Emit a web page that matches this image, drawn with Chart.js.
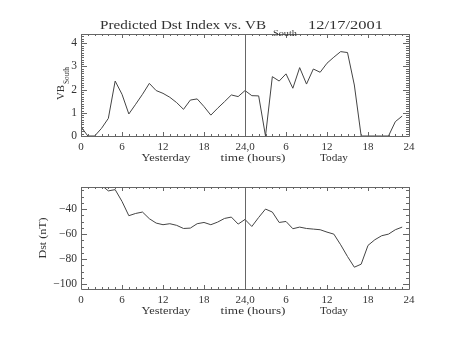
<!DOCTYPE html>
<html>
<head>
<meta charset="utf-8">
<script src="https://cdn.jsdelivr.net/npm/chart.js@4.4.0/dist/chart.umd.min.js"></script>
<style>
    body { margin: 0; background: #fff; }
    #wrap { position: relative; width: 454px; height: 341px; }
    canvas { position: absolute; left: 0; }
</style>
</head>
<body>
<div id="wrap">
    <canvas id="vbChart" width="454" height="170" style="top:0"></canvas>
    <canvas id="dstChart" width="454" height="171" style="top:170px"></canvas>
</div>
<script>
(function(){
    'use strict';

    // hours since 00 UT yesterday (0-23 yesterday, 24-47 today)
    const hours = [0, 1, 2, 3, 4, 5, 6, 7, 8, 9, 10, 11, 12, 13, 14, 15, 16, 17, 18, 19, 20, 21, 22, 23,
                   24, 25, 26, 27, 28, 29, 30, 31, 32, 33, 34, 35, 36, 37, 38, 39, 40, 41, 42, 43, 44, 45, 46, 47];

    const vbSouth = [0.4, 0, 0, 0.33, 0.76, 2.37, 1.8, 0.95, 1.37, 1.8, 2.27, 1.96,
                     1.84, 1.67, 1.44, 1.15, 1.55, 1.6, 1.27, 0.9, 1.2, 1.48, 1.77, 1.7,
                     1.96, 1.74, 1.73, 0, 2.56, 2.37, 2.68, 2.06, 2.95, 2.24, 2.89, 2.75,
                     3.14, 3.4, 3.64, 3.6, 2.2, 0, 0, 0, 0, 0, 0.62, 0.86];

    const dst = [-16, -18, -20, -21, -25.5, -24.5, -33.9, -45.3, -43.5, -42.4, -47.7, -51.2,
                 -52.5, -51.7, -53, -55.5, -55.2, -51.7, -50.7, -52.5, -50.4, -47.5, -46.4, -52,
                 -48.3, -53.9, -46.7, -40, -42.4, -50.7, -49.9, -55.7, -54.4, -55.5, -56, -56.5,
                 -58.4, -60, -68.5, -77.9, -86.4, -84, -69, -64.5, -61.3, -60, -56.5, -54.4];

    const xTicks = [0, 6, 12, 18, 24, 30, 36, 42, 48];
    const xTickLabels = ['0', '6', '12', '18', '24,0', '6', '12', '18', '24'];
    const vbTicks = [0, 1, 2, 3, 4];
    const dstTicks = [-100, -80, -60, -40];

    const SERIF = '"Liberation Serif", "DejaVu Serif", serif';
    const INK = '#333';
    const LINE = '#444';
    const FRAME = '#666';

    // draw text squeezed/stretched to a given width (IDL vector font is wide)
    function fitText(ctx, text, x, y, w){
        const m = ctx.measureText(text).width;
        ctx.save();
        ctx.translate(x, y);
        ctx.scale(w / m, 1);
        ctx.fillText(text, 0, 0);
        ctx.restore();
    }

    // IDL style frame: box, inward ticks on all four sides, divider at 24h
    const idlFrame = {
        id: 'idlFrame',
        afterDatasetsDraw(chart, args, opts){
            const ctx = chart.ctx;
            const a = chart.chartArea;
            const x = chart.scales.x;
            const y = chart.scales.y;
            ctx.save();
            ctx.strokeStyle = FRAME;
            ctx.lineWidth = 1;
            ctx.beginPath();
            ctx.rect(a.left + 0.5, a.top + 0.5, a.right - a.left, a.bottom - a.top);

            for (let h = 0; h <= 48; h++){
                const px = Math.round(x.getPixelForValue(h)) + 0.5;
                const len = h % 6 === 0 ? 4 : 2;
                ctx.moveTo(px, a.bottom); ctx.lineTo(px, a.bottom - len);
                ctx.moveTo(px, a.top); ctx.lineTo(px, a.top + len);
            }

            const n0 = Math.ceil(y.min / opts.minor);
            const n1 = Math.floor(y.max / opts.minor);
            for (let i = n0; i <= n1; i++){
                const py = Math.round(y.getPixelForValue(i * opts.minor)) + 0.5;
                const len = i % opts.perMajor === 0 ? 6 : 3;
                ctx.moveTo(a.left, py); ctx.lineTo(a.left + len, py);
                ctx.moveTo(a.right, py); ctx.lineTo(a.right - len, py);
            }

            const mid = Math.round(x.getPixelForValue(24)) + 0.5;
            ctx.moveTo(mid, a.top); ctx.lineTo(mid, a.bottom);
            ctx.stroke();
            ctx.restore();
        }
    };

    const idlText = {
        id: 'idlText',
        afterDraw(chart, args, opts){
            const ctx = chart.ctx;
            const a = chart.chartArea;
            ctx.save();
            ctx.fillStyle = INK;
            ctx.textAlign = 'left';
            ctx.textBaseline = 'alphabetic';

            // day / axis labels under the x axis
            ctx.font = '11px ' + SERIF;
            const by = a.bottom + 25;
            fitText(ctx, 'Yesterday', 166 - 24.5, by, 49);
            fitText(ctx, 'time (hours)', 253 - 32.5, by, 65);
            fitText(ctx, 'Today', 334 - 14, by, 28);

            if (opts.title){
                ctx.font = '12.5px ' + SERIF;
                fitText(ctx, 'Predicted Dst Index vs. VB', 100, 29, 166);
                fitText(ctx, '12/17/2001', 308, 29, 75);
                ctx.font = '8px ' + SERIF;
                fitText(ctx, 'South', 273, 35.5, 24);
            }

            // rotated y title
            ctx.save();
            const cy = (a.top + a.bottom) / 2;
            if (opts.yTitle === 'vb'){
                ctx.translate(63.5, cy + 15);
                ctx.rotate(-Math.PI / 2);
                ctx.font = '11px ' + SERIF;
                fitText(ctx, 'VB', 0, 0, 15);
                ctx.font = '7.5px ' + SERIF;
                fitText(ctx, 'South', 16, 5, 17);
            } else {
                ctx.translate(45.5, cy);
                ctx.rotate(-Math.PI / 2);
                ctx.font = '11px ' + SERIF;
                fitText(ctx, 'Dst (nT)', -20.5, 0, 41);
            }
            ctx.restore();
            ctx.restore();
        }
    };

    function makeChart(canvas, values, yMin, yMax, yTicks, minor, perMajor, padTop, xHeight, withTitle, yTitle){
        return new Chart(canvas, {
            type: 'line',
            data: {
                datasets: [
                    {
                        data: hours.map((h, i) => ({ x: h, y: values[i] })),
                        borderColor: LINE,
                        borderWidth: 1,
                        pointRadius: 0,
                        tension: 0,
                        clip: 0
                    }
                ]
            },
            options: {
                responsive: false,
                animation: false,
                devicePixelRatio: 1,
                layout: { padding: { left: 0, right: 45, top: padTop, bottom: 0 } },
                plugins: {
                    legend: { display: false },
                    tooltip: { enabled: false },
                    idlFrame: { minor: minor, perMajor: perMajor },
                    idlText: { title: withTitle, yTitle: yTitle }
                },
                scales: {
                    x: {
                        type: 'linear',
                        min: 0,
                        max: 48,
                        afterBuildTicks: s => { s.ticks = xTicks.map(v => ({ value: v })); },
                        afterFit: s => { s.height = xHeight; },
                        ticks: {
                            callback: (v, i) => xTickLabels[i],
                            font: { family: SERIF, size: 11 },
                            color: INK,
                            padding: 5,
                            maxRotation: 0,
                            autoSkip: false
                        },
                        grid: { display: false, drawTicks: false },
                        border: { display: false }
                    },
                    y: {
                        min: yMin,
                        max: yMax,
                        afterBuildTicks: s => { s.ticks = yTicks.map(v => ({ value: v })); },
                        afterFit: s => { s.width = 81; },
                        ticks: {
                            callback: v => (v < 0 ? '\u2212' + Math.abs(v) : String(v)),
                            font: { family: SERIF, size: 11.5 },
                            color: INK,
                            padding: 4
                        },
                        grid: { display: false, drawTicks: false },
                        border: { display: false }
                    }
                }
            },
            plugins: [idlFrame, idlText]
        });
    }

    makeChart(document.querySelector('#vbChart'), vbSouth, 0, 4.4, vbTicks, 0.1, 10, 34, 34, true, 'vb');
    makeChart(document.querySelector('#dstChart'), dst, -103.8, -22.4, dstTicks, 5, 4, 17, 52, false, 'dst');
})();
</script>
</body>
</html>
